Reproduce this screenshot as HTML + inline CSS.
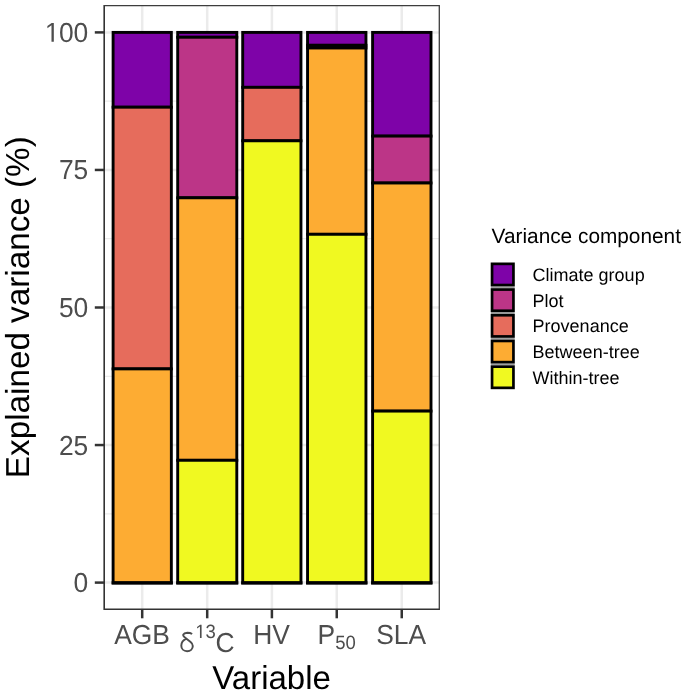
<!DOCTYPE html>
<html><head><meta charset="utf-8"><title>Variance components</title>
<style>html,body{margin:0;padding:0;background:#fff;}svg{display:block;will-change:transform;}text{font-family:"Liberation Sans",sans-serif;text-rendering:geometricPrecision;}</style>
</head><body>
<svg width="685" height="695" viewBox="0 0 685 695">
<rect x="0" y="0" width="685" height="695" fill="#ffffff"/>
<g stroke="#ebebeb" fill="none">
<line x1="104.2" x2="439.3" y1="513.83" y2="513.83" stroke-width="1.25"/>
<line x1="104.2" x2="439.3" y1="376.28" y2="376.28" stroke-width="1.25"/>
<line x1="104.2" x2="439.3" y1="238.73" y2="238.73" stroke-width="1.25"/>
<line x1="104.2" x2="439.3" y1="101.17" y2="101.17" stroke-width="1.25"/>
<line x1="104.2" x2="439.3" y1="582.60" y2="582.60" stroke-width="2.5"/>
<line x1="104.2" x2="439.3" y1="445.05" y2="445.05" stroke-width="2.5"/>
<line x1="104.2" x2="439.3" y1="307.50" y2="307.50" stroke-width="2.5"/>
<line x1="104.2" x2="439.3" y1="169.95" y2="169.95" stroke-width="2.5"/>
<line x1="104.2" x2="439.3" y1="32.40" y2="32.40" stroke-width="2.5"/>
<line x1="142.2" x2="142.2" y1="5.6" y2="609.2" stroke-width="2.5"/>
<line x1="207.2" x2="207.2" y1="5.6" y2="609.2" stroke-width="2.5"/>
<line x1="271.9" x2="271.9" y1="5.6" y2="609.2" stroke-width="2.5"/>
<line x1="336.75" x2="336.75" y1="5.6" y2="609.2" stroke-width="2.5"/>
<line x1="401.75" x2="401.75" y1="5.6" y2="609.2" stroke-width="2.5"/>
</g>
<g stroke="#000000" stroke-width="2.9" stroke-linejoin="miter">
<rect x="113.10" y="32.40" width="58.25" height="74.80" fill="#7E03A8"/>
<rect x="113.10" y="107.20" width="58.25" height="261.70" fill="#E66C5C"/>
<rect x="113.10" y="368.90" width="58.25" height="214.00" fill="#FDAC33"/>
<rect x="177.70" y="32.40" width="59.10" height="4.85" fill="#7E03A8"/>
<rect x="177.70" y="37.25" width="59.10" height="160.55" fill="#BC3587"/>
<rect x="177.70" y="197.80" width="59.10" height="262.50" fill="#FDAC33"/>
<rect x="177.70" y="460.30" width="59.10" height="122.60" fill="#F0F921"/>
<rect x="242.70" y="32.40" width="58.25" height="54.95" fill="#7E03A8"/>
<rect x="242.70" y="87.35" width="58.25" height="53.45" fill="#E66C5C"/>
<rect x="242.70" y="140.80" width="58.25" height="442.10" fill="#F0F921"/>
<rect x="307.55" y="32.40" width="58.40" height="12.90" fill="#7E03A8"/>
<rect x="307.55" y="45.30" width="58.40" height="2.70" fill="#BC3587"/>
<rect x="307.55" y="48.00" width="58.40" height="186.30" fill="#FDAC33"/>
<rect x="307.55" y="234.30" width="58.40" height="348.60" fill="#F0F921"/>
<rect x="372.60" y="32.40" width="58.40" height="103.70" fill="#7E03A8"/>
<rect x="372.60" y="136.10" width="58.40" height="46.90" fill="#BC3587"/>
<rect x="372.60" y="183.00" width="58.40" height="228.10" fill="#FDAC33"/>
<rect x="372.60" y="411.10" width="58.40" height="171.80" fill="#F0F921"/>
<line x1="111.65" x2="172.80" y1="582.9" y2="582.9" stroke-width="3.3"/>
<line x1="176.25" x2="238.25" y1="582.9" y2="582.9" stroke-width="3.3"/>
<line x1="241.25" x2="302.40" y1="582.9" y2="582.9" stroke-width="3.3"/>
<line x1="306.10" x2="367.40" y1="582.9" y2="582.9" stroke-width="3.3"/>
<line x1="371.15" x2="432.45" y1="582.9" y2="582.9" stroke-width="3.3"/>
</g>
<path d="M104.2,5.0 V609.2 H439.95" fill="none" stroke="#333333" stroke-width="1.6" stroke-linejoin="miter"/>
<path d="M104.2,5.6499999999999995 H439.3 V609.2" fill="none" stroke="#3d3d3d" stroke-width="1.3" stroke-linejoin="miter"/>
<g stroke="#333333" stroke-width="2.5">
<line x1="94.8" x2="104.2" y1="582.60" y2="582.60"/>
<line x1="94.8" x2="104.2" y1="445.05" y2="445.05"/>
<line x1="94.8" x2="104.2" y1="307.50" y2="307.50"/>
<line x1="94.8" x2="104.2" y1="169.95" y2="169.95"/>
<line x1="94.8" x2="104.2" y1="32.40" y2="32.40"/>
<line x1="142.2" x2="142.2" y1="609.2" y2="618.3"/>
<line x1="207.2" x2="207.2" y1="609.2" y2="618.3"/>
<line x1="271.9" x2="271.9" y1="609.2" y2="618.3"/>
<line x1="336.75" x2="336.75" y1="609.2" y2="618.3"/>
<line x1="401.75" x2="401.75" y1="609.2" y2="618.3"/>
</g>
<g fill="#4d4d4d">
<text transform="translate(88.30,592.05) scale(1,1.04)" font-size="26.4" text-anchor="end">0</text>
<text transform="translate(88.30,454.50) scale(1,1.04)" font-size="26.4" text-anchor="end">25</text>
<text transform="translate(88.30,316.95) scale(1,1.04)" font-size="26.4" text-anchor="end">50</text>
<text transform="translate(88.30,179.40) scale(1,1.04)" font-size="26.4" text-anchor="end">75</text>
<text transform="translate(88.30,41.85) scale(1,1.04)" font-size="26.4" text-anchor="end">00</text>
<path transform="translate(44.85,41.85) scale(0.0128906,-0.0134062)" d="M515 0V1237L197 1010V1180L530 1409H696V0Z" stroke="none"/>
<text transform="translate(142.00,643.70) scale(1,1.04)" font-size="26.4" text-anchor="middle">AGB</text>
<text transform="translate(271.60,643.70) scale(1,1.04)" font-size="26.4" text-anchor="middle">HV</text>
<text transform="translate(401.10,643.70) scale(1,1.04)" font-size="26.4" text-anchor="middle">SLA</text>
<path transform="translate(176,624)" fill="none" stroke="#4d4d4d" stroke-width="1.95" stroke-linecap="butt" stroke-linejoin="round" d="M16.1,10.0 C14.6,8.9 12.6,8.7 11.3,8.7 C9.4,8.8 7.8,9.4 7.2,10.6 C6.8,11.6 7.6,12.4 8.6,13.2 L14.6,18.0 C16.2,19.3 16.8,20.6 16.8,22.0 C16.8,25.0 14.3,27.2 11.1,27.2 C7.8,27.2 5.3,24.9 5.3,21.7 C5.3,18.6 7.4,15.9 10.3,14.6"/>
<path transform="translate(195.30,638.00) scale(0.0090332,-0.0093945)" d="M515 0V1237L197 1010V1180L530 1409H696V0Z" stroke="none"/>
<text transform="translate(205.40,638.00) scale(1,1.04)" font-size="18.5" text-anchor="start">3</text>
<text transform="translate(215.50,651.60) scale(1,1.04)" font-size="26.4" text-anchor="start">C</text>
<text transform="translate(317.50,643.70) scale(1,1.04)" font-size="26.4" text-anchor="start">P</text>
<text transform="translate(335.20,649.00) scale(1,1.04)" font-size="18.5" text-anchor="start">50</text>
</g>
<text x="271.6" y="689.3" font-size="33" text-anchor="middle" fill="#000">Variable</text>
<text transform="translate(29.4,307.2) rotate(-90)" font-size="33.25" text-anchor="middle" fill="#000">Explained variance (%)</text>
<text x="491.6" y="243.4" font-size="20.82" fill="#000">Variance component</text>
<line x1="490.8" x2="514.7" y1="287.30" y2="287.30" stroke="#a0a0a0" stroke-width="1.8"/>
<line x1="490.8" x2="514.7" y1="313.00" y2="313.00" stroke="#a0a0a0" stroke-width="1.8"/>
<line x1="490.8" x2="514.7" y1="338.70" y2="338.70" stroke="#a0a0a0" stroke-width="1.8"/>
<line x1="490.8" x2="514.7" y1="364.40" y2="364.40" stroke="#a0a0a0" stroke-width="1.8"/>
<g stroke="#000" stroke-width="2.7">
<rect x="492.05" y="263.85" width="21.4" height="21.2" fill="#7E03A8"/>
<rect x="492.05" y="289.55" width="21.4" height="21.2" fill="#BC3587"/>
<rect x="492.05" y="315.25" width="21.4" height="21.2" fill="#E66C5C"/>
<rect x="492.05" y="340.95" width="21.4" height="21.2" fill="#FDAC33"/>
<rect x="492.05" y="366.65" width="21.4" height="21.2" fill="#F0F921"/>
</g>
<g font-size="18.0" fill="#000">
<text x="532.6" y="280.85">Climate group</text>
<text x="532.6" y="306.55">Plot</text>
<text x="532.6" y="332.25">Provenance</text>
<text x="532.6" y="357.95">Between-tree</text>
<text x="532.6" y="383.65">Within-tree</text>
</g>
</svg>
</body></html>
